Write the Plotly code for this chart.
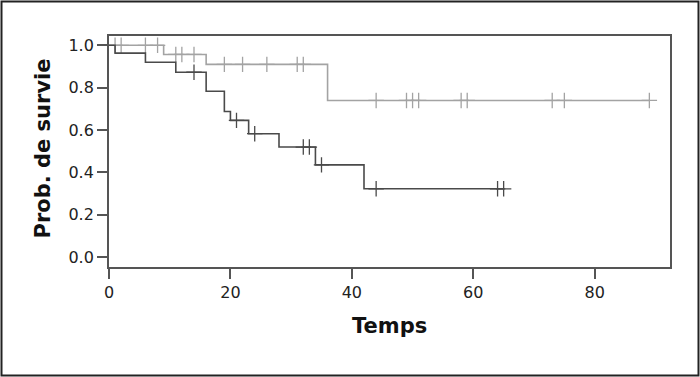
import plotly.graph_objects as go

# ---- data ----
# Group A (dark curve)
events_A = [1, 6, 11, 16, 19, 20, 23, 28, 34, 42]
surv_A = [0.963, 0.920, 0.873, 0.783, 0.688, 0.646, 0.583, 0.520, 0.436, 0.323]
censor_A = [14, 21, 24, 32, 33, 35, 44, 64, 65]

# Group B (light curve)
events_B = [9, 16, 36]
surv_B = [0.957, 0.910, 0.740]
censor_B = [1, 2, 6, 8, 11, 12, 14, 19, 22, 26, 31, 32, 44, 49, 50, 51, 58, 59, 73, 75, 89]

x_ticks = [0, 20, 40, 60, 80]
y_ticks = [0.0, 0.2, 0.4, 0.6, 0.8, 1.0]
x_title = "Temps"
y_title = "Prob. de survie"

DARK = "#4a4a4a"
LIGHT = "#a3a3a3"


def step_value(t, events, surv):
    s = 1.0
    for e, v in zip(events, surv):
        if t >= e:
            s = v
    return s


def step_xy(events, surv, censor):
    end = max(censor + events)
    xs = [0] + list(events) + [end]
    ys = [1.0] + list(surv) + [surv[-1]]
    return xs, ys


fig = go.Figure()
for events, surv, censor, col in [
    (events_B, surv_B, censor_B, LIGHT),
    (events_A, surv_A, censor_A, DARK),
]:
    xs, ys = step_xy(events, surv, censor)
    fig.add_trace(go.Scatter(x=xs, y=ys, mode="lines", line=dict(color=col, width=1.6, shape="hv"),
                             showlegend=False, hoverinfo="skip"))
    fig.add_trace(go.Scatter(x=censor, y=[step_value(t, events, surv) for t in censor], mode="markers",
                             marker=dict(symbol="cross-thin", size=11, line=dict(color=col, width=1.3), color=col),
                             showlegend=False))

# plot area: x 109..670, y 36..267 px
L, R, T, B = 109, 30, 36, 110
W, H = 700, 377
pw, ph = W - L - R, H - T - B


def px_x(px):
    return (px - L) / pw


def px_y(py):
    return (H - B - py) / ph


axis_common = dict(showline=True, mirror=True, linecolor="#555555", linewidth=1.8,
                   ticks="outside", ticklen=10, tickwidth=1.5, tickcolor="#555555",
                   showgrid=False, zeroline=False,
                   tickfont=dict(family="DejaVu Sans", size=16, color="#222222"))

fig.update_xaxes(range=[0, 92.4], tickvals=x_ticks, ticktext=[str(v) for v in x_ticks], **axis_common)
fig.update_yaxes(range=[-0.046, 1.044], tickvals=y_ticks, ticktext=[f"{v:.1f}" for v in y_ticks], **axis_common)

fig.add_annotation(text=f"<b>{x_title}</b>", xref="paper", yref="paper", x=px_x(389), y=px_y(326),
                   xanchor="center", yanchor="middle", showarrow=False,
                   font=dict(family="DejaVu Sans", size=21, color="#111111"))
fig.add_annotation(text=f"<b>{y_title}</b>", xref="paper", yref="paper", x=px_x(42), y=px_y(148.5),
                   xanchor="center", yanchor="middle", showarrow=False, textangle=-90,
                   font=dict(family="DejaVu Sans", size=21, color="#111111"))

# outer border around the whole picture
fig.add_shape(type="rect", xref="paper", yref="paper",
              x0=px_x(1.5), x1=px_x(698.5), y0=px_y(375.5), y1=px_y(1.5),
              line=dict(color="#222222", width=2), fillcolor="rgba(0,0,0,0)", layer="above")

fig.update_layout(width=W, height=H, margin=dict(l=L, r=R, t=T, b=B),
                  paper_bgcolor="white", plot_bgcolor="white", showlegend=False)

fig.write_html("out.html", config={"displayModeBar": False},
               post_script="document.body.style.margin='0';document.body.style.overflow='hidden';")
